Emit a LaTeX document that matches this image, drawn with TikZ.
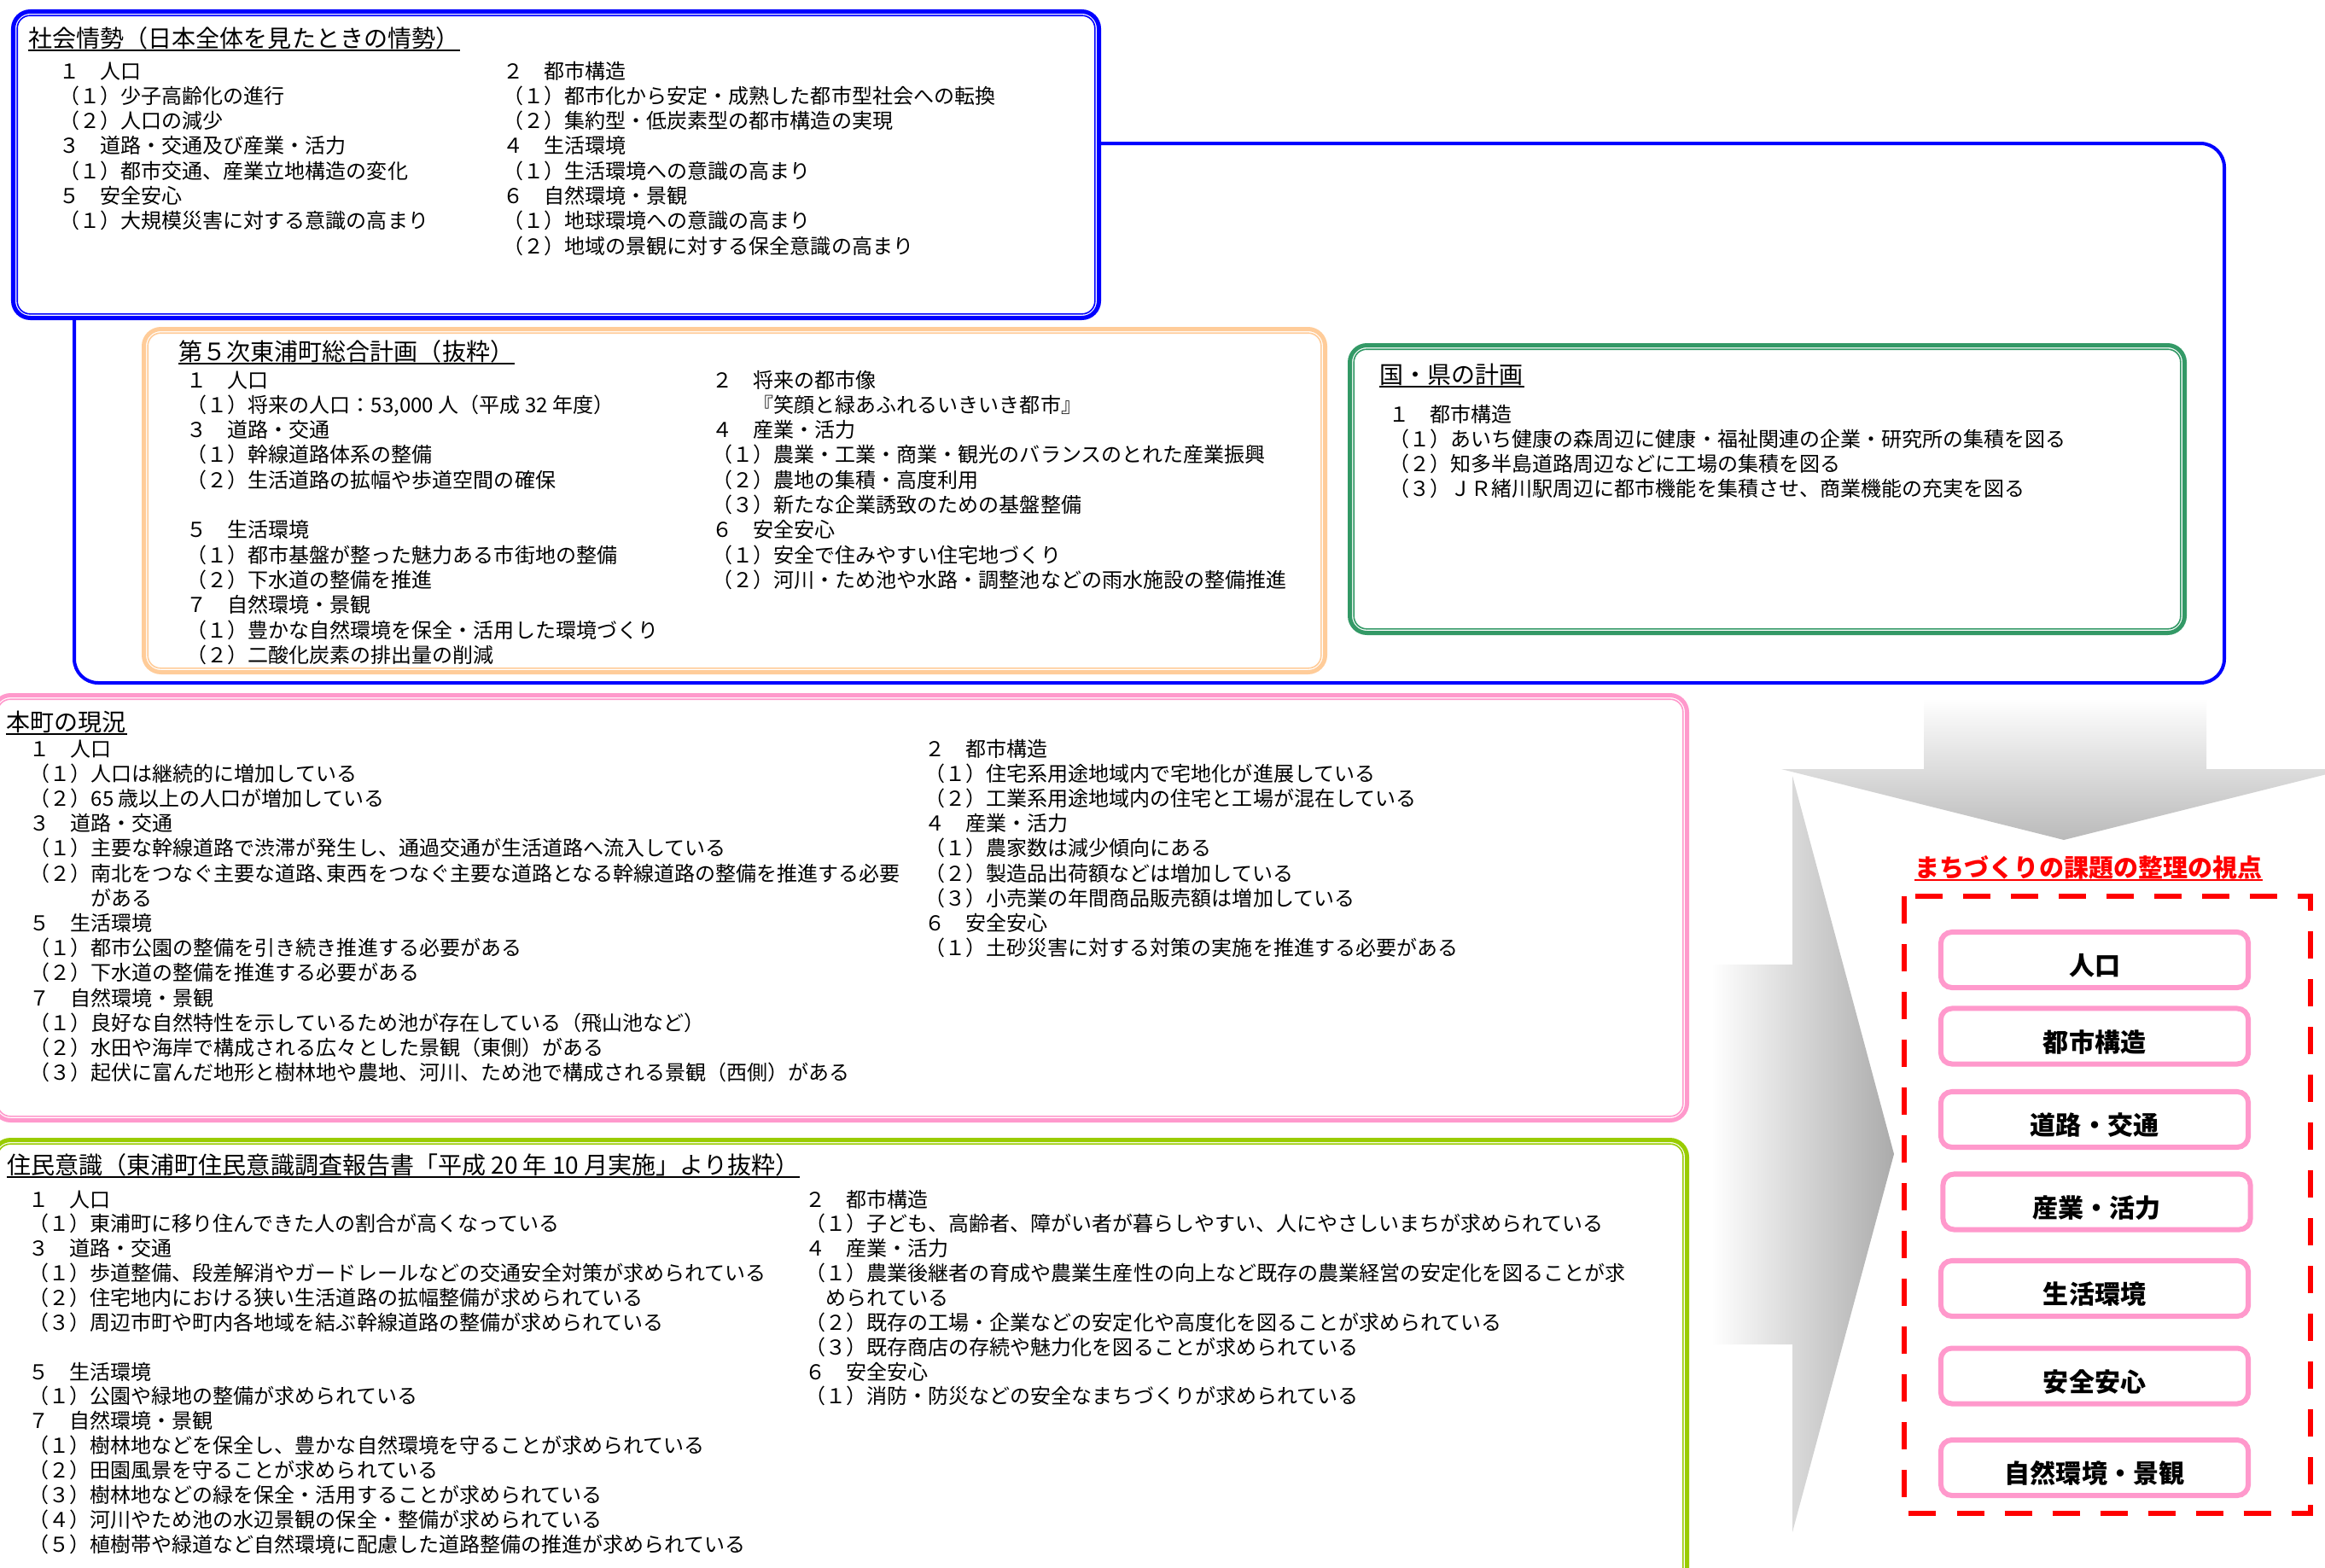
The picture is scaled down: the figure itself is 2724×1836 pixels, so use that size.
\documentclass[tikz,border=0pt]{standalone}
\usepackage{fontspec}
\newfontfamily\cjk{Noto Sans CJK JP}
\definecolor{bblue}{RGB}{0,0,255}
\definecolor{peach}{RGB}{255,204,153}
\definecolor{sgreen}{RGB}{51,153,102}
\definecolor{pinkb}{RGB}{255,153,204}
\definecolor{ygreen}{RGB}{153,204,0}
\definecolor{rred}{RGB}{255,0,0}
\tikzset{
  body/.style={anchor=base west, inner sep=0pt, font=\cjk\fontsize{6.83}{8}\selectfont},
  ttl/.style={anchor=base west, inner sep=0pt, font=\cjk\fontsize{7.97}{9}\selectfont},
  uline/.style={line width=0.02cm},
  itembox/.style={draw=pinkb, line width=0.06cm, rounded corners=0.13cm, fill=white,
    minimum width=3.6cm, minimum height=0.65cm, inner sep=0pt,
    text height=0.40cm, text depth=0.036cm,
    font=\cjk\bfseries\fontsize{8.54}{10}\selectfont},
  redttl/.style={anchor=base, inner sep=0pt, text=rred, font=\cjk\bfseries\fontsize{8.25}{10}\selectfont},
}
% double bordered rounded box: colour, x1, y1, x2, y2 (outer edges, px)
\newcommand\dbox[5]{%
  \draw[draw=#1, fill=white, line width=0.05cm, rounded corners=0.2cm] (#2+2.5,#3+2.5) rectangle (#4-2.5,#5-2.5);
  \draw[draw=#1, line width=0.016cm, rounded corners=0.15cm] (#2+7.2,#3+7.2) rectangle (#4-7.2,#5-7.2);
}
% column of text lines: name prefix, x, first baseline, line step, list row/text
\newcommand\txtcol[5]{%
  \foreach \ri/\tx in {#5} {\node[body, name=#1-\ri] at (#2, #3+#4*\ri) {\tx};}
}
\begin{document}
\begin{tikzpicture}[x=0.01cm, y=-0.01cm]
\useasboundingbox (0,0) rectangle (2724,1836);
\fill[white] (0,0) rectangle (2724,1836);

% big blue frame behind the upper boxes
\draw[bblue, line width=0.04cm, rounded corners=0.28cm] (87,168) rectangle (2606,800);

% ---------- box 1 ----------
\dbox{bblue}{13}{11}{1290}{375}
\node[ttl, name=t1] at (33,55) {社会情勢（日本全体を見たときの情勢）};
\txtcol{b1L}{69}{92}{29.3}{0/{１　人口},1/{（１）少子高齢化の進行},2/{（２）人口の減少},3/{３　道路・交通及び産業・活力},4/{（１）都市交通、産業立地構造の変化},5/{５　安全安心},6/{（１）大規模災害に対する意識の高まり}}
\txtcol{b1R}{589}{92}{29.3}{0/{２　都市構造},1/{（１）都市化から安定・成熟した都市型社会への転換},2/{（２）集約型・低炭素型の都市構造の実現},3/{４　生活環境},4/{（１）生活環境への意識の高まり},5/{６　自然環境・景観},6/{（１）地球環境への意識の高まり},7/{（２）地域の景観に対する保全意識の高まり}}

% ---------- box 2 ----------
\dbox{peach}{166}{383}{1555}{790}
\node[ttl, name=t2] at (209,422) {第５次東浦町総合計画（抜粋）};
\txtcol{b2L}{218}{454}{29.3}{0/{１　人口},1/{（１）将来の人口：53,000 人（平成 32 年度）},2/{３　道路・交通},3/{（１）幹線道路体系の整備},4/{（２）生活道路の拡幅や歩道空間の確保},6/{５　生活環境},7/{（１）都市基盤が整った魅力ある市街地の整備},8/{（２）下水道の整備を推進},9/{７　自然環境・景観},10/{（１）豊かな自然環境を保全・活用した環境づくり},11/{（２）二酸化炭素の排出量の削減}}
\txtcol{b2R}{834}{454}{29.3}{0/{２　将来の都市像},1/{　　『笑顔と緑あふれるいきいき都市』},2/{４　産業・活力},3/{（１）農業・工業・商業・観光のバランスのとれた産業振興},4/{（２）農地の集積・高度利用},5/{（３）新たな企業誘致のための基盤整備},6/{６　安全安心},7/{（１）安全で住みやすい住宅地づくり},8/{（２）河川・ため池や水路・調整池などの雨水施設の整備推進}}

% ---------- box 4 ----------
\dbox{sgreen}{1579}{402}{2562}{744}
\node[ttl, name=t4] at (1616,449) {国・県の計画};
\txtcol{b4}{1627}{494}{29.3}{0/{１　都市構造},1/{（１）あいち健康の森周辺に健康・福祉関連の企業・研究所の集積を図る},2/{（２）知多半島道路周辺などに工場の集積を図る},3/{（３）ＪＲ緒川駅周辺に都市機能を集積させ、商業機能の充実を図る}}

% ---------- box 3 ----------
\dbox{pinkb}{-10}{812}{1979}{1315}
\node[ttl, name=t3] at (7,856) {本町の現況};
\txtcol{b3L}{34}{886}{29.2}{0/{１　人口},1/{（１）人口は継続的に増加している},2/{（２）65 歳以上の人口が増加している},3/{３　道路・交通},4/{（１）主要な幹線道路で渋滞が発生し、通過交通が生活道路へ流入している},5/{（２）南北をつなぐ主要な道路､東西をつなぐ主要な道路となる幹線道路の整備を推進する必要},6/{　　　がある},7/{５　生活環境},8/{（１）都市公園の整備を引き続き推進する必要がある},9/{（２）下水道の整備を推進する必要がある},10/{７　自然環境・景観},11/{（１）良好な自然特性を示しているため池が存在している（飛山池など）},12/{（２）水田や海岸で構成される広々とした景観（東側）がある},13/{（３）起伏に富んだ地形と樹林地や農地、河川、ため池で構成される景観（西側）がある}}
\txtcol{b3R}{1083}{886}{29.2}{0/{２　都市構造},1/{（１）住宅系用途地域内で宅地化が進展している},2/{（２）工業系用途地域内の住宅と工場が混在している},3/{４　産業・活力},4/{（１）農家数は減少傾向にある},5/{（２）製造品出荷額などは増加している},6/{（３）小売業の年間商品販売額は増加している},7/{６　安全安心},8/{（１）土砂災害に対する対策の実施を推進する必要がある}}

% ---------- box 5 ----------
\dbox{ygreen}{-10}{1333}{1979}{1860}
\node[ttl, name=t5] at (8,1375) {住民意識（東浦町住民意識調査報告書「平成 20 年 10 月実施」より抜粋）};
\txtcol{b5L}{33}{1414}{28.86}{0/{１　人口},1/{（１）東浦町に移り住んできた人の割合が高くなっている},2/{３　道路・交通},3/{（１）歩道整備、段差解消やガードレールなどの交通安全対策が求められている},4/{（２）住宅地内における狭い生活道路の拡幅整備が求められている},5/{（３）周辺市町や町内各地域を結ぶ幹線道路の整備が求められている},7/{５　生活環境},8/{（１）公園や緑地の整備が求められている},9/{７　自然環境・景観},10/{（１）樹林地などを保全し、豊かな自然環境を守ることが求められている},11/{（２）田園風景を守ることが求められている},12/{（３）樹林地などの緑を保全・活用することが求められている},13/{（４）河川やため池の水辺景観の保全・整備が求められている},14/{（５）植樹帯や緑道など自然環境に配慮した道路整備の推進が求められている}}
\txtcol{b5R}{943}{1414}{28.86}{0/{２　都市構造},1/{（１）子ども、高齢者、障がい者が暮らしやすい、人にやさしいまちが求められている},2/{４　産業・活力},3/{（１）農業後継者の育成や農業生産性の向上など既存の農業経営の安定化を図ることが求},4/{　められている},5/{（２）既存の工場・企業などの安定化や高度化を図ることが求められている},6/{（３）既存商店の存続や魅力化を図ることが求められている},7/{６　安全安心},8/{（１）消防・防災などの安全なまちづくりが求められている}}

% title underlines
\foreach \n in {t1,t2,t3,t4,t5}
  \draw[uline] ([yshift=-0.035cm]\n.base west) -- ([yshift=-0.035cm]\n.base east);

% ---------- big grey arrows ----------
\shade[left color=white, right color=black!33]
  (2005,1130) -- (2100,1130) -- (2100,909) -- (2219,1352) -- (2100,1795) -- (2100,1575) -- (2005,1575) -- cycle;
\shade[top color=white, bottom color=black!27]
  (2254,818) -- (2585,818) -- (2585,901) -- (2750,901) -- (2418,984) -- (2087,901) -- (2254,901) -- cycle;

% ---------- viewpoints ----------
\node[redttl, name=rt] at (2447,1027) {まちづくりの課題の整理の視点};
\draw[rred, line width=0.02cm] ([yshift=-0.035cm]rt.base west) -- ([yshift=-0.035cm]rt.base east);
\draw[rred, line width=0.065cm, dash pattern=on 0.32cm off 0.24cm] (2231,1050) rectangle (2707,1773);

\node[itembox, name=i1] at (2454,1124.5) {人口};
\node[itembox, name=i2] at (2454,1214) {都市構造};
\node[itembox, name=i3] at (2454,1311.5) {道路・交通};
\node[itembox, name=i4] at (2456.5,1408) {産業・活力};
\node[itembox, name=i5] at (2454,1509.5) {生活環境};
\node[itembox, name=i6] at (2454,1612) {安全安心};
\node[itembox, name=i7] at (2454,1719.5) {自然環境・景観};
\end{tikzpicture}
\end{document}
